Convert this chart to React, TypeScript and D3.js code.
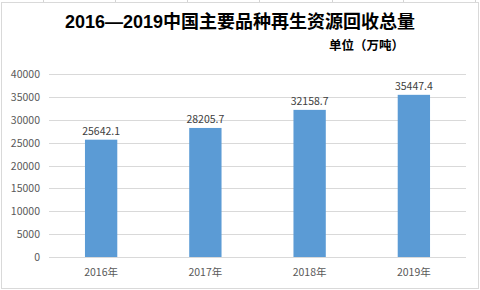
import React from "react";
import * as d3 from "d3";

const categories = ["2016年", "2017年", "2018年", "2019年"];
const values = [25642.1, 28205.7, 32158.7, 35447.4];
const valueLabels = ["25642.1", "28205.7", "32158.7", "35447.4"];
const yTicks = [0, 5000, 10000, 15000, 20000, 25000, 30000, 35000, 40000];
const title = "2016—2019中国主要品种再生资源回收总量";
const unit = "单位（万吨）";
const cellLines = [43, 115, 187, 259, 332, 403, 475];

export default function App() {
  const W = 480, H = 290;
  const left = 49, right = 466, top = 74, bottom = 257;
  const x = d3.scaleBand<string>().domain(categories).range([left, right]).paddingInner(0.69).paddingOuter(0.345);
  const y = d3.scaleLinear().domain([0, 40000]).range([bottom, top]);
  const font = "'Microsoft YaHei', 'Noto Sans CJK SC', sans-serif";
  return (
    <svg width={W} height={H} style={{ position: "absolute", left: 0, top: 0, background: "#fff" }}>
      <rect x={0} y={0} width={W} height={H} fill="#fff" />
      {cellLines.map((cx, i) => (
        <line key={i} x1={cx + 0.5} x2={cx + 0.5} y1={0} y2={2} stroke="#D4D4D4" />
      ))}
      <rect x={1.5} y={2.5} width={477} height={286} fill="#fff" stroke="#D9D9D9" />
      <text x={240} y={28} textAnchor="middle" fontFamily="Arial, 'Noto Sans CJK SC', sans-serif" fontWeight="bold" fontSize={18} fill="#000">
        {title}
      </text>
      <text x={329} y={50} fontFamily="'Noto Sans CJK SC', sans-serif" fontWeight="bold" fontSize={12.5} fill="#000">
        {unit}
      </text>
      {yTicks.map((t) => (
        <g key={t}>
          <line x1={left} x2={right} y1={Math.round(y(t)) + 0.5} y2={Math.round(y(t)) + 0.5} stroke="#D9D9D9" />
          <text x={40} y={y(t) + 4} textAnchor="end" fontFamily={font} fontSize={10.5} fill="#595959">
            {t}
          </text>
        </g>
      ))}
      {categories.map((c, i) => (
        <g key={c}>
          <rect x={x(c)!} y={y(values[i])} width={x.bandwidth()} height={y(0) - y(values[i])} fill="#5B9BD5" />
          <text x={x(c)! + x.bandwidth() / 2} y={y(values[i]) - 5} textAnchor="middle" fontFamily={font} fontSize={10.5} fill="#404040">
            {valueLabels[i]}
          </text>
          <text x={x(c)! + x.bandwidth() / 2} y={276} textAnchor="middle" fontFamily={font} fontSize={10.5} fill="#595959">
            {c}
          </text>
        </g>
      ))}
    </svg>
  );
}
